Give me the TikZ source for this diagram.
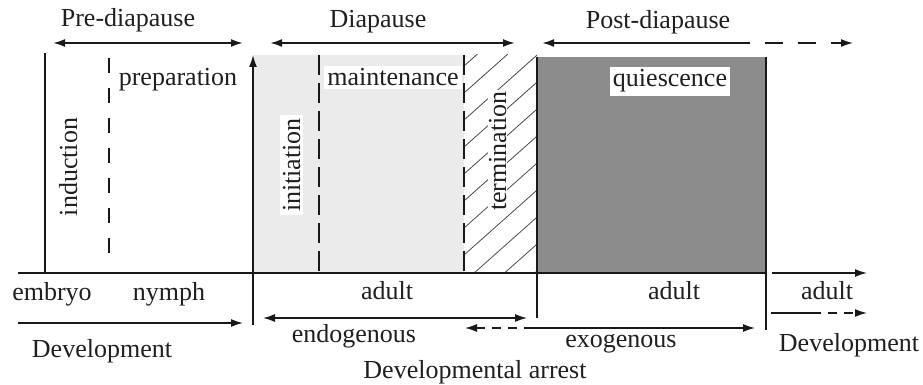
\documentclass[tikz,border=0pt]{standalone}
\usepackage{fontspec}
\setmainfont{Liberation Serif}
\usetikzlibrary{arrows.meta}
\begin{document}
\begin{tikzpicture}[x=1pt,y=-1pt,
  lbl/.style={font=\fontsize{26}{30}\selectfont, inner sep=0pt, text=black!88, anchor=base},
  wbox/.style={lbl, fill=white, inner sep=3pt},
  heavy/.style={line width=2pt, black!90},
  med/.style={line width=1.5pt, black!90},
  tipR/.style={-{Latex[length=12pt,width=8pt]}},
  tipL/.style={{Latex[length=12pt,width=8pt]}-},
  tipLR/.style={{Latex[length=12pt,width=8pt]}-{Latex[length=12pt,width=8pt]}},
  longdash/.style={dash pattern=on 15pt off 15pt},
  phasedash/.style={dash pattern=on 20pt off 8pt},
  arrowdash/.style={dash pattern=on 18pt off 15pt},
  smalldash/.style={dash pattern=on 9pt off 7pt},
  hatchline/.style={line width=0.8pt, black!70},
  lightzone/.style={fill=black!8},
  darkzone/.style={fill=black!45}
]
\useasboundingbox (0,0) rectangle (923,385);

% coordinates
\coordinate (pdL) at (53,43);  \coordinate (pdR) at (243,43);
\coordinate (dL) at (270,43);  \coordinate (dR) at (515,43);
\coordinate (qL) at (542,43);  \coordinate (qM) at (732,43); \coordinate (qR) at (853,43);
\coordinate (indT) at (45,53);  \coordinate (indB) at (45,273);
\coordinate (prepT) at (109,58); \coordinate (prepB) at (109,253);
\coordinate (arrB) at (253,325); \coordinate (arrT) at (253,55);
\coordinate (mT) at (319,55); \coordinate (mB) at (319,273);
\coordinate (tT) at (464,55); \coordinate (tB) at (464,273);
\coordinate (qlT) at (537,57); \coordinate (qlB) at (537,318);
\coordinate (qrT) at (766,57); \coordinate (qrB) at (766,330);
\coordinate (axL) at (18,273); \coordinate (axR) at (766,273);
\coordinate (ax2L) at (772,273); \coordinate (ax2R) at (867,273);
\coordinate (devL) at (18,323); \coordinate (devR) at (243,323);
\coordinate (enL) at (263,318); \coordinate (enR) at (527,318);
\coordinate (exL) at (465,328); \coordinate (exM) at (528,328); \coordinate (exR) at (755,328);
\coordinate (drL) at (771,313); \coordinate (drM) at (812,313); \coordinate (drR) at (867,313);

% zones
\fill[lightzone] (253,55) rectangle (464,273);
\fill[darkzone] (537,57) rectangle (766,273);
\begin{scope}
  \clip (464,55) rectangle (537,273);
  \foreach \y in {66,93,...,370} \draw[hatchline] (464,\y) -- ++(90,-80);
\end{scope}

% vertical lines
\draw[heavy] (indT) -- (indB);
\draw[med, longdash] (prepT) -- (prepB);
\draw[med, tipR] (arrB) -- (arrT);
\draw[heavy, phasedash] (mT) -- (mB);
\draw[med, phasedash] (tT) -- (tB);
\draw[heavy] (qlT) -- (qlB);
\draw[heavy] (qrT) -- (qrB);

% axis
\draw[heavy] (axL) -- (axR);
\draw[med, tipR] (ax2L) -- (ax2R);

% top arrows
\draw[heavy, tipLR] (pdL) -- (pdR);
\draw[heavy, tipLR] (dL) -- (dR);
\draw[heavy, tipL] (qL) -- (qM);
\draw[med, arrowdash, tipR] (qM) -- (qR);

% bottom arrows
\draw[med, tipR] (devL) -- (devR);
\draw[med, tipLR] (enL) -- (enR);
\draw[med, smalldash, tipL] (exL) -- (exM);
\draw[med, tipR] (exM) -- (exR);
\draw[med] (drL) -- (drM);
\draw[med, smalldash, tipR] (drM) -- (drR);

% labels top
\node[lbl] (tpre) at (128,27) {Pre-diapause};
\node[lbl] (tdia) at (378,28) {Diapause};
\node[lbl] (tpost) at (658,29) {Post-diapause};
\node[lbl] (tprep) at (178,86) {preparation};
\node[wbox] (tmaint) at (393,86) {maintenance};
\node[wbox] (tquies) at (670,87) {quiescence};
\node[lbl, rotate=90] (tind) at (77,167) {induction};
\node[wbox, rotate=90] (tinit) at (300,165) {initiation};
\node[lbl, rotate=90, fill=white, inner sep=1pt] (tterm) at (506,151) {termination};

% labels bottom
\node[lbl] (temb) at (52,300) {embryo};
\node[lbl] (tnym) at (169,300) {nymph};
\node[lbl] (tad1) at (387,299) {adult};
\node[lbl] (tad2) at (674,299) {adult};
\node[lbl] (tad3) at (827,299) {adult};
\node[lbl] (tdev1) at (102,357) {Development};
\node[lbl] (tendo) at (354,342) {endogenous};
\node[lbl] (texo) at (621,347) {exogenous};
\node[lbl] (tarr) at (475,378) {Developmental arrest};
\node[lbl] (tdev2) at (849,351) {Development};
\end{tikzpicture}
\end{document}
